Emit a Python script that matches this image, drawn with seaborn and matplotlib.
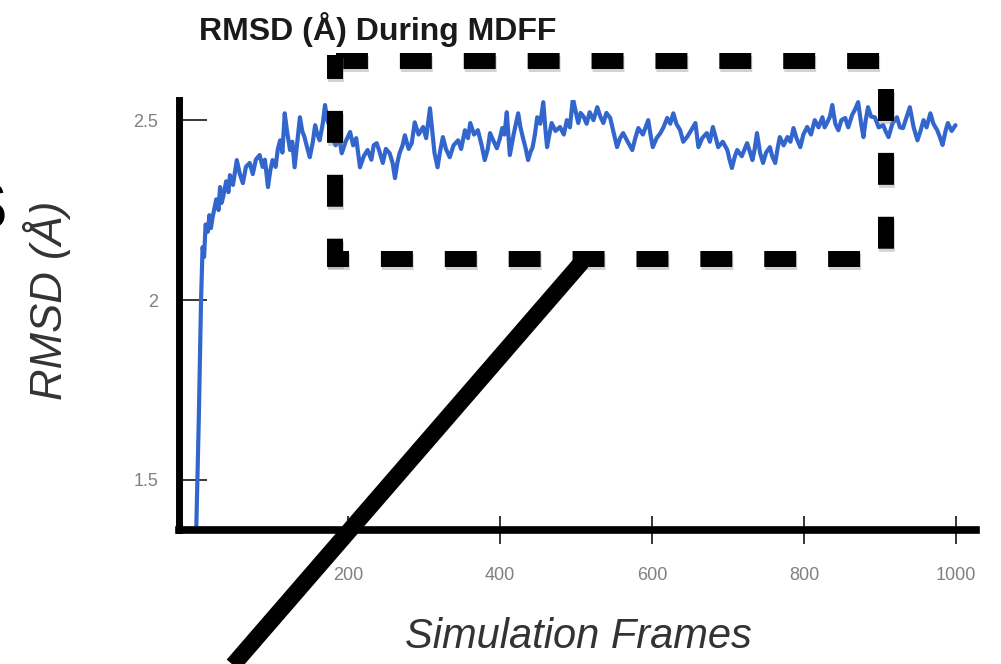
import matplotlib
matplotlib.use("Agg")
import matplotlib.pyplot as plt
import matplotlib.patheffects as pe
from matplotlib.lines import Line2D
import seaborn as sns

# RMSD trace (frame, RMSD in Angstrom)
frames = [0, 4, 7, 9, 11, 13, 16, 18, 20, 22, 25, 27, 30, 32, 34, 36, 40, 43,
          45, 49, 54, 58, 62, 66, 71, 75, 79, 84, 88, 91, 95, 98, 101, 105, 108,
          111, 114, 117, 120, 124, 127, 130, 134, 137, 140, 143, 147, 150, 154,
          157, 160, 163, 167, 170, 173, 176, 180, 184, 188, 192, 197, 203, 207,
          211, 216, 221, 226, 231, 234, 238, 242, 246, 250, 255, 259, 262, 265,
          268, 272, 275, 280, 284, 288, 293, 299, 303, 308, 311, 314, 318, 321,
          325, 329, 334, 339, 345, 349, 354, 358, 361, 366, 371, 376, 380, 384,
          387, 392, 396, 400, 403, 406, 409, 413, 418, 424, 427, 430, 434, 437,
          440, 443, 446, 449, 453, 457, 460, 462, 465, 468, 473, 479, 484, 488,
          492, 496, 500, 503, 506, 510, 514, 518, 523, 528, 532, 536, 540, 545,
          549, 554, 558, 562, 568, 574, 578, 582, 588, 595, 598, 601, 606, 611,
          615, 620, 624, 628, 632, 637, 641, 646, 651, 657, 661, 666, 672, 676,
          680, 684, 687, 693, 699, 702, 705, 709, 712, 718, 725, 729, 732, 735,
          738, 742, 746, 750, 755, 758, 762, 765, 768, 773, 778, 782, 786, 790,
          795, 799, 804, 809, 814, 819, 824, 827, 830, 834, 837, 841, 845, 849,
          854, 858, 863, 867, 871, 875, 878, 881, 884, 888, 893, 898, 904, 907,
          911, 916, 922, 926, 930, 935, 939, 944, 949, 953, 957, 961, 966, 970,
          975, 979, 982, 986, 989, 994, 999]
rmsd = [1.30, 1.667, 2.0, 2.147, 2.12, 2.21, 2.19, 2.236, 2.2, 2.228, 2.26,
        2.28, 2.25, 2.314, 2.27, 2.286, 2.33, 2.30, 2.347, 2.32, 2.389, 2.35,
        2.325, 2.37, 2.381, 2.35, 2.39, 2.403, 2.37, 2.39, 2.314, 2.36, 2.389,
        2.37, 2.42, 2.444, 2.41, 2.519, 2.47, 2.417, 2.44, 2.369, 2.45, 2.508,
        2.47, 2.453, 2.42, 2.397, 2.44, 2.486, 2.46, 2.444, 2.49, 2.542, 2.50,
        2.481, 2.45, 2.43, 2.46, 2.408, 2.44, 2.467, 2.43, 2.45, 2.369, 2.40,
        2.417, 2.39, 2.43, 2.436, 2.41, 2.381, 2.42, 2.408, 2.38, 2.339, 2.38,
        2.408, 2.43, 2.458, 2.42, 2.436, 2.494, 2.46, 2.481, 2.45, 2.533, 2.47,
        2.408, 2.369, 2.41, 2.453, 2.42, 2.397, 2.43, 2.444, 2.42, 2.472, 2.45,
        2.492, 2.46, 2.472, 2.43, 2.389, 2.42, 2.464, 2.44, 2.422, 2.45, 2.478,
        2.46, 2.522, 2.403, 2.46, 2.519, 2.48, 2.453, 2.42, 2.389, 2.41, 2.425,
        2.46, 2.508, 2.49, 2.550, 2.47, 2.425, 2.46, 2.492, 2.47, 2.481, 2.46,
        2.5, 2.48, 2.561, 2.52, 2.492, 2.52, 2.51, 2.49, 2.522, 2.50, 2.536,
        2.51, 2.492, 2.52, 2.506, 2.47, 2.425, 2.45, 2.464, 2.44, 2.417, 2.45,
        2.478, 2.46, 2.5, 2.46, 2.425, 2.45, 2.464, 2.48, 2.506, 2.49, 2.519,
        2.49, 2.472, 2.44, 2.453, 2.47, 2.492, 2.425, 2.45, 2.464, 2.44, 2.481,
        2.45, 2.425, 2.44, 2.417, 2.39, 2.367, 2.40, 2.417, 2.40, 2.436, 2.41,
        2.389, 2.42, 2.464, 2.41, 2.381, 2.41, 2.425, 2.40, 2.381, 2.42, 2.453,
        2.43, 2.453, 2.44, 2.478, 2.45, 2.425, 2.46, 2.481, 2.46, 2.5, 2.48,
        2.508, 2.48, 2.492, 2.51, 2.542, 2.49, 2.472, 2.50, 2.506, 2.48, 2.514,
        2.53, 2.550, 2.49, 2.453, 2.50, 2.536, 2.51, 2.508, 2.48, 2.486, 2.47,
        2.453, 2.49, 2.508, 2.48, 2.478, 2.51, 2.536, 2.48, 2.444, 2.47, 2.5,
        2.48, 2.519, 2.49, 2.472, 2.45, 2.431, 2.47, 2.492, 2.47, 2.486]

x_ticks = [200, 400, 600, 800, 1000]
y_ticks = [1.5, 2, 2.5]
y_tick_labels = ["1.5", "2", "2.5"]

sns.set_style("white")
plt.rcParams["font.family"] = ["Liberation Sans", "DejaVu Sans"]

W, H = 1001, 664
fig = plt.figure(figsize=(W / 100, H / 100), dpi=100)
ax = fig.add_axes([179 / W, 1 - 530 / H, (976 - 179) / W, (530 - 100) / H])

sns.lineplot(x=frames, y=rmsd, ax=ax, color="#3366cc", linewidth=3.0)

ax.set_xlim(-22, 1026)
ax.set_ylim(1.361, 2.556)
ax.set_xticks(x_ticks)
ax.set_yticks(y_ticks)
ax.set_yticklabels(y_tick_labels)

for s in ["top", "right"]:
    ax.spines[s].set_visible(False)
ax.spines["left"].set_linewidth(5)
ax.spines["bottom"].set_linewidth(5.5)
ax.spines["left"].set_color("black")
ax.spines["bottom"].set_color("black")

ax.tick_params(axis="x", bottom=True, direction="inout", length=20, width=1.1,
               color="black", pad=17, labelsize=13, labelcolor="#808080")
ax.tick_params(axis="y", left=True, direction="in", length=20, width=1.1,
               color="black", pad=15, labelsize=13, labelcolor="#808080")

ax.set_xlabel("Simulation Frames", fontsize=30, style="italic", color="#333333")
ax.set_ylabel("RMSD (Å)", fontsize=31.5, style="italic", color="#333333")
ax.xaxis.label.set_va("center")
ax.yaxis.label.set_va("center")
ax.xaxis.set_label_coords((578 - 179) / 797, (530 - 637) / 430)
ax.yaxis.set_label_coords((47 - 179) / 797, (530 - 300) / 430)

fig.text(378 / W, 1 - 30 / H, "RMSD (Å) During MDFF", fontsize=23,
         fontweight="bold", color="#1a1a1a", ha="center", va="center")

# cropped letter at the left edge
fig.text(-39 / W, 1 - 212 / H, "S", fontsize=50, fontweight="bold",
         color="black", ha="left", va="center")

# hand-drawn dashed box and pointer line (pixel coords, origin top-left)
def px_line(x0, y0, x1, y1, lw, ls="-", shadow=True):
    ln = Line2D([x0 / W, x1 / W], [1 - y0 / H, 1 - y1 / H], transform=fig.transFigure,
                color="black", linewidth=lw, linestyle=ls, solid_capstyle="butt",
                dash_capstyle="butt", zorder=5)
    if shadow:
        ln.set_path_effects([pe.SimpleLineShadow(offset=(1, -2), shadow_color="gray",
                                                 alpha=0.35), pe.Normal()])
    fig.lines.append(ln)

lw_box = 11.5
px2lw = 1 / 16.0
px_line(336, 61, 882, 61, lw_box, (0, (2, 2)))
px_line(335, 55, 335, 266, lw_box, (8 * px2lw, (2, 2)))
px_line(327, 259, 862, 259, lw_box, (10 * px2lw, (2, 2)))
px_line(886, 89, 886, 250, lw_box, (0, (2, 2)))
px_line(582, 262, 220, 680, 12, "-", shadow=False)

fig.savefig("out.png", dpi=100)
